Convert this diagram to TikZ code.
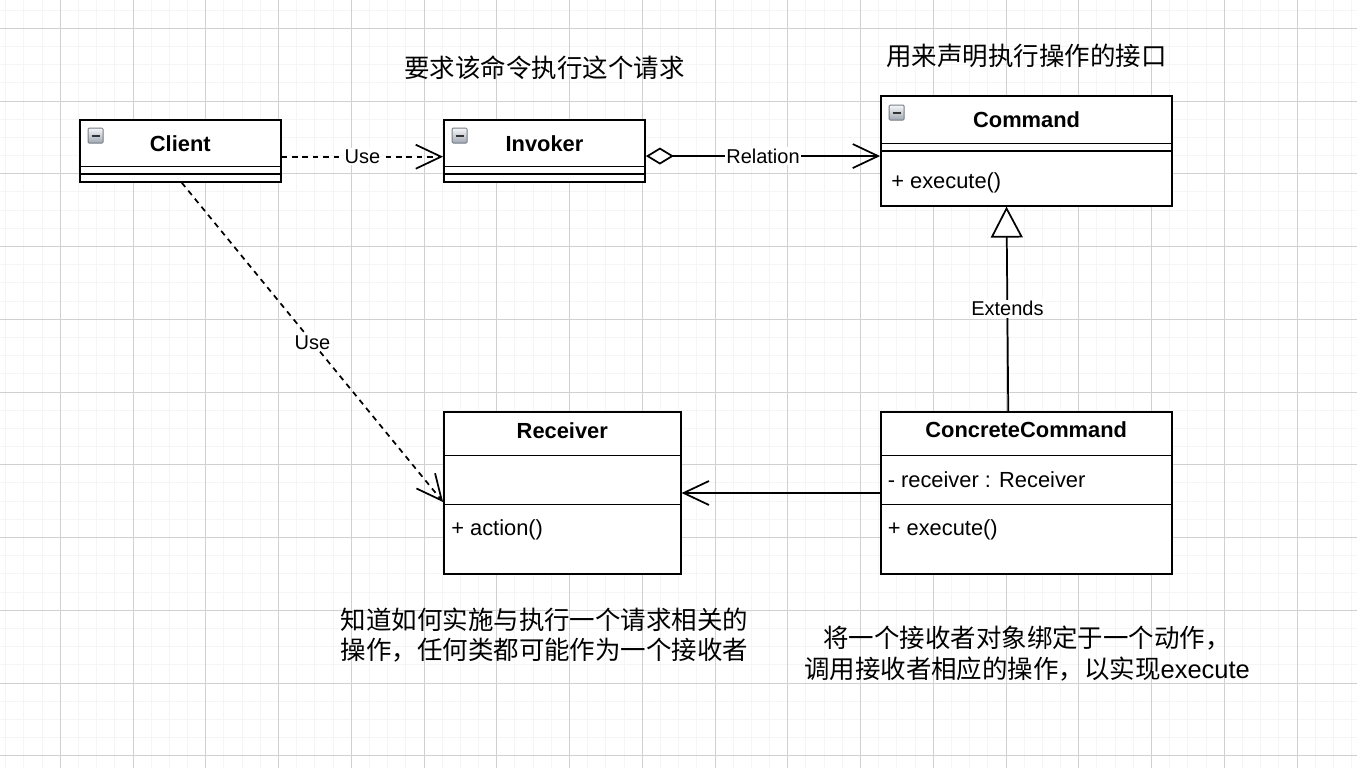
\documentclass[tikz,border=0pt]{standalone}
\usepackage{fontspec}
\setmainfont{Liberation Sans}
\newfontfamily\cjk{Noto Sans CJK SC}
\usetikzlibrary{arrows.meta,fit,calc}
\definecolor{gridminor}{RGB}{245,245,245}
\definecolor{gridmajor}{RGB}{208,208,208}
\definecolor{iconedge}{RGB}{118,124,134}
\definecolor{icontop}{RGB}{246,247,249}
\definecolor{iconbot}{RGB}{160,167,178}
\newcommand\myicon[1]{%
  \draw[iconedge, line width=0.6pt, rounded corners=0.8pt, top color=icontop, bottom color=iconbot]
    ($(#1)+(9,9)$) rectangle ++(15,15);
  \draw[black!80, line width=1.4pt] ($(#1)+(12.5,16.5)$) -- ++(8,0);
}
\begin{document}
\begin{tikzpicture}[x=0.75pt,y=-0.75pt,
  box/.style={draw=black, line width=1.35pt, fill=white, inner sep=0pt},
  divider/.style={line width=1.1pt},
  title/.style={font=\bfseries\fontsize{16.4pt}{19pt}\selectfont, inner sep=0pt},
  member/.style={font=\fontsize{16.4pt}{19pt}\selectfont, inner sep=0pt, anchor=west},
  elabel/.style={font=\fontsize{15pt}{18pt}\selectfont, fill=white, inner sep=1.2pt},
  note/.style={font=\cjk\fontsize{19.1pt}{22.9pt}\selectfont, align=center, inner sep=0pt},
  conn/.style={line width=1.3pt},
  dep/.style={conn, dash pattern=on 4.2pt off 3.6pt},
  barb/.style={-{Straight Barb[length=19pt,width=18pt]}}
]
% background and grid
\fill[white] (0,0) rectangle (1357,768);
\useasboundingbox (0,0) rectangle (1357,768);
\foreach \i in {-3,...,71} \draw[gridminor, line width=0.75pt] ({60.3+\i*18.1875},0) -- ({60.3+\i*18.1875},768);
\foreach \j in {-1,...,40} \draw[gridminor, line width=0.75pt] (0,{28.3+\j*18.1875}) -- (1357,{28.3+\j*18.1875});
\foreach \i in {0,...,17} \draw[gridmajor, line width=0.75pt] ({60.3+\i*72.75},0) -- ({60.3+\i*72.75},768);
\foreach \j in {0,...,10} \draw[gridmajor, line width=0.75pt] (0,{28.3+\j*72.75}) -- (1357,{28.3+\j*72.75});

% Client
\node[box, fit={(80,120)(280.7,181.7)}] (client) {};
\draw[divider] (client.west |- 0,166.7) -- (client.east |- 0,166.7);
\draw[divider] (client.west |- 0,174) -- (client.east |- 0,174);
\node[title] (clientT) at (180.3,143.7) {Client};
\myicon{client.north west}

% Invoker
\node[box, fit={(444,120)(645,181.7)}] (invoker) {};
\draw[divider] (invoker.west |- 0,166.7) -- (invoker.east |- 0,166.7);
\draw[divider] (invoker.west |- 0,174) -- (invoker.east |- 0,174);
\node[title] (invokerT) at (544.5,143.7) {Invoker};
\myicon{invoker.north west}

% Command
\node[box, fit={(881,96)(1172.3,205.7)}] (command) {};
\draw[divider] (command.west |- 0,143.3) -- (command.east |- 0,143.3);
\draw[divider] (command.west |- 0,151) -- (command.east |- 0,151);
\node[title] (commandT) at (1026.6,119.7) {Command};
\node[member] (commandM) at (891,183) {+ execute()};
\myicon{$(command.north west)+(0,1)$}

% Receiver
\node[box, fit={(444,411.7)(680.7,574)}] (receiver) {};
\draw[divider] (receiver.west |- 0,455.3) -- (receiver.east |- 0,455.3);
\draw[divider] (receiver.west |- 0,504.3) -- (receiver.east |- 0,504.3);
\node[title] (receiverT) at (562.3,430.3) {Receiver};
\node[member] (receiverM) at (451,529.5) {+ action()};

% ConcreteCommand
\node[box, fit={(881,411.7)(1172.3,574.3)}] (cc) {};
\draw[divider] (cc.west |- 0,455.3) -- (cc.east |- 0,455.3);
\draw[divider] (cc.west |- 0,504.3) -- (cc.east |- 0,504.3);
\node[title] (ccT) at (1026.2,429.7) {ConcreteCommand};
\node[member] (ccA) at (887.5,480) {- receiver : Receiver};
\node[member] (ccM) at (887.5,530) {+ execute()};

% connectors
\draw[dep, barb] ([yshift=-4.4pt]client.east) -- node[elabel] (use1) {Use} ([yshift=-4.4pt]client.east -| invoker.west);
\draw[conn, {Diamond[fill=white,length=21pt,width=12.75pt]}-{Straight Barb[length=19pt,width=18pt]}]
  ([yshift=-3.9pt]invoker.east) -- node[elabel] (rel) {Relation} ([yshift=-3.9pt]invoker.east -| command.west);
\draw[conn, -{Triangle[fill=white,length=23.25pt,width=24pt]}]
  ([xshift=-13.8pt]cc.north) -- node[elabel] (ext) {Extends} ([xshift=-15.1pt]command.south);
\draw[conn, barb] (cc.west) -- (cc.west -| receiver.east);
\draw[dep, barb] ([xshift=1pt]client.south) -- node[elabel] (use2) {Use} ([yshift=-6.9pt]receiver.west);

% notes
\node[note] (n1) at (544.5,68) {要求该命令执行这个请求};
\node[note] (n2) at (1026.5,56) {用来声明执行操作的接口};
\node[note] (n3) at (544.5,635) {知道如何实施与执行一个请求相关的\\操作，任何类都可能作为一个接收者};
\node[note] (n4) at (1027,653.5) {将一个接收者对象绑定于一个动作，\\调用接收者相应的操作，以实现{\rmfamily execute}};
\end{tikzpicture}
\end{document}
